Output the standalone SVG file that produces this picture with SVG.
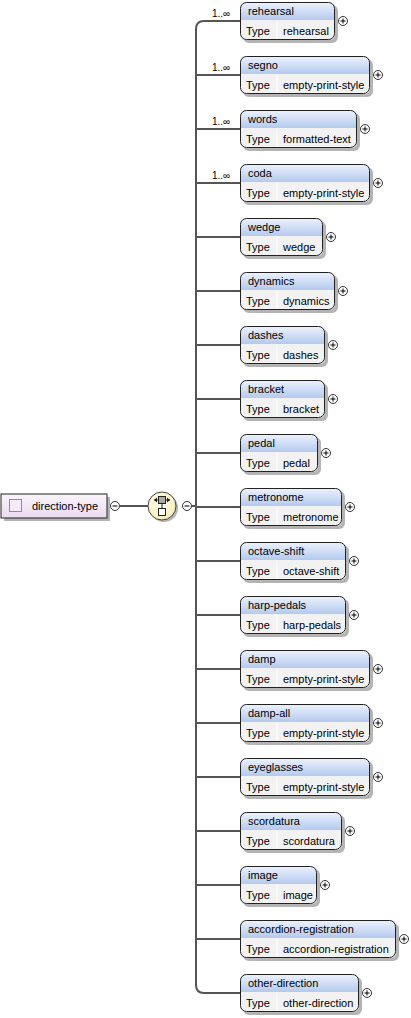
<svg xmlns="http://www.w3.org/2000/svg" width="411" height="1018" viewBox="0 0 411 1018">
<defs>
<linearGradient id="hdr" gradientUnits="userSpaceOnUse" x1="0" y1="0" x2="0" y2="18">
<stop offset="0" stop-color="#eef3fc"/>
<stop offset="1" stop-color="#b3caee"/>
</linearGradient>
<linearGradient id="lav" x1="0" y1="0" x2="0" y2="1">
<stop offset="0" stop-color="#faf4fc"/>
<stop offset="1" stop-color="#e9dcef"/>
</linearGradient>
<radialGradient id="yel" cx="0.45" cy="0.4" r="0.6">
<stop offset="0" stop-color="#fffdf0"/>
<stop offset="1" stop-color="#f7eeb8"/>
</radialGradient>
</defs>
<style>
text{font-family:"Liberation Sans",Arial,sans-serif;font-size:11px;fill:#000}
.card{font-size:10px}
.shadow{fill:#b4b4b4}
.box{fill:none;stroke:#222;stroke-width:1}
.hdr{fill:url(#hdr)}
.row{fill:#f2f2f2}
.sep{stroke:#fff;stroke-width:1}
.pm{fill:#fff;stroke:#333;stroke-width:1}
.pms{stroke:#000;stroke-width:1}
.conn{fill:none;stroke:#555;stroke-width:2}
</style>

<g id="connectors">
<path class="conn" d="M240,21 H204 Q196,21 196,29 V985 Q196,993 204,993 H240" stroke-width="2.5"/>
<path class="conn" d="M196,75 H240 M196,129 H240 M196,183 H240 M196,237 H240 M196,291 H240 M196,345 H240 M196,399 H240 M196,453 H240 M196,507 H240 M196,561 H240 M196,615 H240 M196,669 H240 M196,723 H240 M196,777 H240 M196,831 H240 M196,885 H240 M196,939 H240"/>
<path class="conn" d="M120,506 H148 M191,506 H196" stroke-width="1.5"/>
<text class="card" x="212" y="17">1..∞</text>
<text class="card" x="212" y="71">1..∞</text>
<text class="card" x="212" y="125">1..∞</text>
<text class="card" x="212" y="179">1..∞</text>
</g>

<g id="direction-type">
<rect class="shadow" x="4" y="497" width="106" height="24"/>
<rect x="1" y="494" width="106" height="24" fill="url(#lav)" stroke="#222"/>
<rect x="9.5" y="499.5" width="12" height="12" fill="#f4eaf8" stroke="#a080b0"/>
<text x="32" y="510">direction-type</text>
<circle class="pm" cx="115" cy="506" r="4.5"/>
<path class="pms" d="M112.5,506 H117.5"/>
</g>

<g id="choice">
<circle cx="164" cy="508" r="14" fill="#b4b4b4"/>
<circle cx="162" cy="506" r="14" fill="url(#yel)" stroke="#444" stroke-width="1"/>
<path d="M154,500 H170 M162,503.5 V508.5" stroke="#222" stroke-width="1" fill="none"/>
<path d="M170,500 l-3,-2.5 v5 z M154,500 l3,-2.5 v5 z" fill="#222"/>
<rect x="158.5" y="496.5" width="7" height="7" fill="#aaa" stroke="#222"/>
<rect x="158.5" y="508.5" width="7" height="7" fill="#fff" stroke="#222"/>
<circle class="pm" cx="187" cy="506" r="4.5"/>
<path class="pms" d="M184.5,506 H189.5"/>
</g>

<g id="rehearsal" transform="translate(240,2)">
<rect class="shadow" x="3" y="3" width="95" height="38" rx="6"/>
<path class="hdr" d="M0,18 V6 Q0,0 6,0 H89 Q95,0 95,6 V18 Z"/>
<path class="row" d="M0,18 V32 Q0,38 6,38 H89 Q95,38 95,32 V18 Z"/>
<path class="sep" d="M37,19 V37"/>
<rect class="box" x="0.5" y="0.5" width="94" height="37" rx="6"/>
<text x="8" y="13">rehearsal</text><text x="6" y="33">Type</text><text x="43" y="33">rehearsal</text>
<circle class="pm" cx="103" cy="19" r="4.5"/><path class="pms" d="M100.5,19 H105.5 M103,16.5 V21.5"/>
</g>

<g id="segno" transform="translate(240,56)">
<rect class="shadow" x="3" y="3" width="130" height="38" rx="6"/>
<path class="hdr" d="M0,18 V6 Q0,0 6,0 H124 Q130,0 130,6 V18 Z"/>
<path class="row" d="M0,18 V32 Q0,38 6,38 H124 Q130,38 130,32 V18 Z"/>
<path class="sep" d="M37,19 V37"/>
<rect class="box" x="0.5" y="0.5" width="129" height="37" rx="6"/>
<text x="8" y="13">segno</text><text x="6" y="33">Type</text><text x="43" y="33">empty-print-style</text>
<circle class="pm" cx="138" cy="19" r="4.5"/><path class="pms" d="M135.5,19 H140.5 M138,16.5 V21.5"/>
</g>

<g id="words" transform="translate(240,110)">
<rect class="shadow" x="3" y="3" width="117" height="38" rx="6"/>
<path class="hdr" d="M0,18 V6 Q0,0 6,0 H111 Q117,0 117,6 V18 Z"/>
<path class="row" d="M0,18 V32 Q0,38 6,38 H111 Q117,38 117,32 V18 Z"/>
<path class="sep" d="M37,19 V37"/>
<rect class="box" x="0.5" y="0.5" width="116" height="37" rx="6"/>
<text x="8" y="13">words</text><text x="6" y="33">Type</text><text x="43" y="33">formatted-text</text>
<circle class="pm" cx="125" cy="19" r="4.5"/><path class="pms" d="M122.5,19 H127.5 M125,16.5 V21.5"/>
</g>

<g id="coda" transform="translate(240,164)">
<rect class="shadow" x="3" y="3" width="130" height="38" rx="6"/>
<path class="hdr" d="M0,18 V6 Q0,0 6,0 H124 Q130,0 130,6 V18 Z"/>
<path class="row" d="M0,18 V32 Q0,38 6,38 H124 Q130,38 130,32 V18 Z"/>
<path class="sep" d="M37,19 V37"/>
<rect class="box" x="0.5" y="0.5" width="129" height="37" rx="6"/>
<text x="8" y="13">coda</text><text x="6" y="33">Type</text><text x="43" y="33">empty-print-style</text>
<circle class="pm" cx="138" cy="19" r="4.5"/><path class="pms" d="M135.5,19 H140.5 M138,16.5 V21.5"/>
</g>

<g id="wedge" transform="translate(240,218)">
<rect class="shadow" x="3" y="3" width="83" height="38" rx="6"/>
<path class="hdr" d="M0,18 V6 Q0,0 6,0 H77 Q83,0 83,6 V18 Z"/>
<path class="row" d="M0,18 V32 Q0,38 6,38 H77 Q83,38 83,32 V18 Z"/>
<path class="sep" d="M37,19 V37"/>
<rect class="box" x="0.5" y="0.5" width="82" height="37" rx="6"/>
<text x="8" y="13">wedge</text><text x="6" y="33">Type</text><text x="43" y="33">wedge</text>
<circle class="pm" cx="91" cy="19" r="4.5"/><path class="pms" d="M88.5,19 H93.5 M91,16.5 V21.5"/>
</g>

<g id="dynamics" transform="translate(240,272)">
<rect class="shadow" x="3" y="3" width="95" height="38" rx="6"/>
<path class="hdr" d="M0,18 V6 Q0,0 6,0 H89 Q95,0 95,6 V18 Z"/>
<path class="row" d="M0,18 V32 Q0,38 6,38 H89 Q95,38 95,32 V18 Z"/>
<path class="sep" d="M37,19 V37"/>
<rect class="box" x="0.5" y="0.5" width="94" height="37" rx="6"/>
<text x="8" y="13">dynamics</text><text x="6" y="33">Type</text><text x="43" y="33">dynamics</text>
<circle class="pm" cx="103" cy="19" r="4.5"/><path class="pms" d="M100.5,19 H105.5 M103,16.5 V21.5"/>
</g>

<g id="dashes" transform="translate(240,326)">
<rect class="shadow" x="3" y="3" width="85" height="38" rx="6"/>
<path class="hdr" d="M0,18 V6 Q0,0 6,0 H79 Q85,0 85,6 V18 Z"/>
<path class="row" d="M0,18 V32 Q0,38 6,38 H79 Q85,38 85,32 V18 Z"/>
<path class="sep" d="M37,19 V37"/>
<rect class="box" x="0.5" y="0.5" width="84" height="37" rx="6"/>
<text x="8" y="13">dashes</text><text x="6" y="33">Type</text><text x="43" y="33">dashes</text>
<circle class="pm" cx="93" cy="19" r="4.5"/><path class="pms" d="M90.5,19 H95.5 M93,16.5 V21.5"/>
</g>

<g id="bracket" transform="translate(240,380)">
<rect class="shadow" x="3" y="3" width="85" height="38" rx="6"/>
<path class="hdr" d="M0,18 V6 Q0,0 6,0 H79 Q85,0 85,6 V18 Z"/>
<path class="row" d="M0,18 V32 Q0,38 6,38 H79 Q85,38 85,32 V18 Z"/>
<path class="sep" d="M37,19 V37"/>
<rect class="box" x="0.5" y="0.5" width="84" height="37" rx="6"/>
<text x="8" y="13">bracket</text><text x="6" y="33">Type</text><text x="43" y="33">bracket</text>
<circle class="pm" cx="93" cy="19" r="4.5"/><path class="pms" d="M90.5,19 H95.5 M93,16.5 V21.5"/>
</g>

<g id="pedal" transform="translate(240,434)">
<rect class="shadow" x="3" y="3" width="78" height="38" rx="6"/>
<path class="hdr" d="M0,18 V6 Q0,0 6,0 H72 Q78,0 78,6 V18 Z"/>
<path class="row" d="M0,18 V32 Q0,38 6,38 H72 Q78,38 78,32 V18 Z"/>
<path class="sep" d="M37,19 V37"/>
<rect class="box" x="0.5" y="0.5" width="77" height="37" rx="6"/>
<text x="8" y="13">pedal</text><text x="6" y="33">Type</text><text x="43" y="33">pedal</text>
<circle class="pm" cx="86" cy="19" r="4.5"/><path class="pms" d="M83.5,19 H88.5 M86,16.5 V21.5"/>
</g>

<g id="metronome" transform="translate(240,488)">
<rect class="shadow" x="3" y="3" width="102" height="38" rx="6"/>
<path class="hdr" d="M0,18 V6 Q0,0 6,0 H96 Q102,0 102,6 V18 Z"/>
<path class="row" d="M0,18 V32 Q0,38 6,38 H96 Q102,38 102,32 V18 Z"/>
<path class="sep" d="M37,19 V37"/>
<rect class="box" x="0.5" y="0.5" width="101" height="37" rx="6"/>
<text x="8" y="13">metronome</text><text x="6" y="33">Type</text><text x="43" y="33">metronome</text>
<circle class="pm" cx="110" cy="19" r="4.5"/><path class="pms" d="M107.5,19 H112.5 M110,16.5 V21.5"/>
</g>

<g id="octave-shift" transform="translate(240,542)">
<rect class="shadow" x="3" y="3" width="106" height="38" rx="6"/>
<path class="hdr" d="M0,18 V6 Q0,0 6,0 H100 Q106,0 106,6 V18 Z"/>
<path class="row" d="M0,18 V32 Q0,38 6,38 H100 Q106,38 106,32 V18 Z"/>
<path class="sep" d="M37,19 V37"/>
<rect class="box" x="0.5" y="0.5" width="105" height="37" rx="6"/>
<text x="8" y="13">octave-shift</text><text x="6" y="33">Type</text><text x="43" y="33">octave-shift</text>
<circle class="pm" cx="114" cy="19" r="4.5"/><path class="pms" d="M111.5,19 H116.5 M114,16.5 V21.5"/>
</g>

<g id="harp-pedals" transform="translate(240,596)">
<rect class="shadow" x="3" y="3" width="106" height="38" rx="6"/>
<path class="hdr" d="M0,18 V6 Q0,0 6,0 H100 Q106,0 106,6 V18 Z"/>
<path class="row" d="M0,18 V32 Q0,38 6,38 H100 Q106,38 106,32 V18 Z"/>
<path class="sep" d="M37,19 V37"/>
<rect class="box" x="0.5" y="0.5" width="105" height="37" rx="6"/>
<text x="8" y="13">harp-pedals</text><text x="6" y="33">Type</text><text x="43" y="33">harp-pedals</text>
<circle class="pm" cx="114" cy="19" r="4.5"/><path class="pms" d="M111.5,19 H116.5 M114,16.5 V21.5"/>
</g>

<g id="damp" transform="translate(240,650)">
<rect class="shadow" x="3" y="3" width="130" height="38" rx="6"/>
<path class="hdr" d="M0,18 V6 Q0,0 6,0 H124 Q130,0 130,6 V18 Z"/>
<path class="row" d="M0,18 V32 Q0,38 6,38 H124 Q130,38 130,32 V18 Z"/>
<path class="sep" d="M37,19 V37"/>
<rect class="box" x="0.5" y="0.5" width="129" height="37" rx="6"/>
<text x="8" y="13">damp</text><text x="6" y="33">Type</text><text x="43" y="33">empty-print-style</text>
<circle class="pm" cx="138" cy="19" r="4.5"/><path class="pms" d="M135.5,19 H140.5 M138,16.5 V21.5"/>
</g>

<g id="damp-all" transform="translate(240,704)">
<rect class="shadow" x="3" y="3" width="130" height="38" rx="6"/>
<path class="hdr" d="M0,18 V6 Q0,0 6,0 H124 Q130,0 130,6 V18 Z"/>
<path class="row" d="M0,18 V32 Q0,38 6,38 H124 Q130,38 130,32 V18 Z"/>
<path class="sep" d="M37,19 V37"/>
<rect class="box" x="0.5" y="0.5" width="129" height="37" rx="6"/>
<text x="8" y="13">damp-all</text><text x="6" y="33">Type</text><text x="43" y="33">empty-print-style</text>
<circle class="pm" cx="138" cy="19" r="4.5"/><path class="pms" d="M135.5,19 H140.5 M138,16.5 V21.5"/>
</g>

<g id="eyeglasses" transform="translate(240,758)">
<rect class="shadow" x="3" y="3" width="130" height="38" rx="6"/>
<path class="hdr" d="M0,18 V6 Q0,0 6,0 H124 Q130,0 130,6 V18 Z"/>
<path class="row" d="M0,18 V32 Q0,38 6,38 H124 Q130,38 130,32 V18 Z"/>
<path class="sep" d="M37,19 V37"/>
<rect class="box" x="0.5" y="0.5" width="129" height="37" rx="6"/>
<text x="8" y="13">eyeglasses</text><text x="6" y="33">Type</text><text x="43" y="33">empty-print-style</text>
<circle class="pm" cx="138" cy="19" r="4.5"/><path class="pms" d="M135.5,19 H140.5 M138,16.5 V21.5"/>
</g>

<g id="scordatura" transform="translate(240,812)">
<rect class="shadow" x="3" y="3" width="102" height="38" rx="6"/>
<path class="hdr" d="M0,18 V6 Q0,0 6,0 H96 Q102,0 102,6 V18 Z"/>
<path class="row" d="M0,18 V32 Q0,38 6,38 H96 Q102,38 102,32 V18 Z"/>
<path class="sep" d="M37,19 V37"/>
<rect class="box" x="0.5" y="0.5" width="101" height="37" rx="6"/>
<text x="8" y="13">scordatura</text><text x="6" y="33">Type</text><text x="43" y="33">scordatura</text>
<circle class="pm" cx="110" cy="19" r="4.5"/><path class="pms" d="M107.5,19 H112.5 M110,16.5 V21.5"/>
</g>

<g id="image" transform="translate(240,866)">
<rect class="shadow" x="3" y="3" width="77" height="38" rx="6"/>
<path class="hdr" d="M0,18 V6 Q0,0 6,0 H71 Q77,0 77,6 V18 Z"/>
<path class="row" d="M0,18 V32 Q0,38 6,38 H71 Q77,38 77,32 V18 Z"/>
<path class="sep" d="M37,19 V37"/>
<rect class="box" x="0.5" y="0.5" width="76" height="37" rx="6"/>
<text x="8" y="13">image</text><text x="6" y="33">Type</text><text x="43" y="33">image</text>
<circle class="pm" cx="85" cy="19" r="4.5"/><path class="pms" d="M82.5,19 H87.5 M85,16.5 V21.5"/>
</g>

<g id="accordion-registration" transform="translate(240,920)">
<rect class="shadow" x="3" y="3" width="156" height="38" rx="6"/>
<path class="hdr" d="M0,18 V6 Q0,0 6,0 H150 Q156,0 156,6 V18 Z"/>
<path class="row" d="M0,18 V32 Q0,38 6,38 H150 Q156,38 156,32 V18 Z"/>
<path class="sep" d="M37,19 V37"/>
<rect class="box" x="0.5" y="0.5" width="155" height="37" rx="6"/>
<text x="8" y="13">accordion-registration</text><text x="6" y="33">Type</text><text x="43" y="33">accordion-registration</text>
<circle class="pm" cx="164" cy="19" r="4.5"/><path class="pms" d="M161.5,19 H166.5 M164,16.5 V21.5"/>
</g>

<g id="other-direction" transform="translate(240,974)">
<rect class="shadow" x="3" y="3" width="119" height="38" rx="6"/>
<path class="hdr" d="M0,18 V6 Q0,0 6,0 H113 Q119,0 119,6 V18 Z"/>
<path class="row" d="M0,18 V32 Q0,38 6,38 H113 Q119,38 119,32 V18 Z"/>
<path class="sep" d="M37,19 V37"/>
<rect class="box" x="0.5" y="0.5" width="118" height="37" rx="6"/>
<text x="8" y="13">other-direction</text><text x="6" y="33">Type</text><text x="43" y="33">other-direction</text>
<circle class="pm" cx="127" cy="19" r="4.5"/><path class="pms" d="M124.5,19 H129.5 M127,16.5 V21.5"/>
</g>
</svg>
